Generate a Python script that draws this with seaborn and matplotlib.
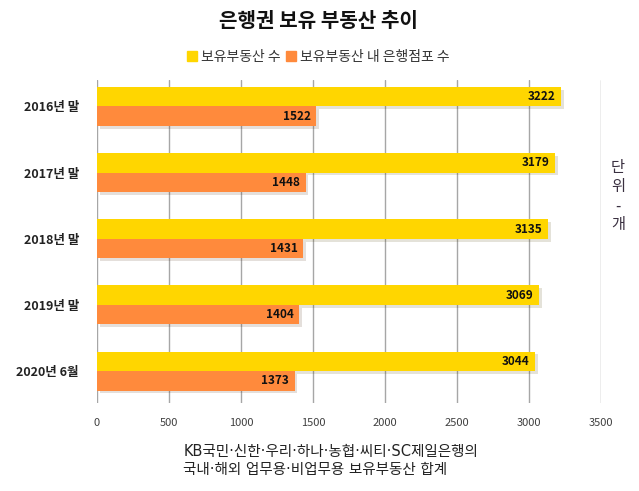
import numpy as np
import pandas as pd
import seaborn as sns
import matplotlib.pyplot as plt
import matplotlib.patheffects as pe

# Data
periods = ["2016년 말", "2017년 말", "2018년 말", "2019년 말", "2020년 6월"]
owned_total = [3222, 3179, 3135, 3069, 3044]
bank_branches = [1522, 1448, 1431, 1404, 1373]
series_names = ["보유부동산 수", "보유부동산 내 은행점포 수"]
x_ticks = [0, 500, 1000, 1500, 2000, 2500, 3000, 3500]

df = pd.DataFrame({
    "period": periods * 2,
    "value": owned_total + bank_branches,
    "series": [series_names[0]] * len(periods) + [series_names[1]] * len(periods),
})

sns.set_style("white")
plt.rcParams["font.family"] = ["Noto Sans CJK KR", "DejaVu Sans"]

fig = plt.figure(figsize=(6.39, 4.91), dpi=100)
ax = fig.add_axes([0.1518, 0.179, 0.7887, 0.658])

palette = {series_names[0]: "#FFD600", series_names[1]: "#FF8A3C"}
sns.barplot(data=df, x="value", y="period", hue="series", orient="h",
            palette=palette, width=0.59, ax=ax, legend=False, saturation=1)

shadow = [pe.SimplePatchShadow(offset=(2, -2), alpha=0.15), pe.Normal()]
for p in ax.patches:
    p.set_path_effects(shadow)
    p.set_edgecolor("none")
    w = p.get_width()
    yc = p.get_y() + p.get_height() / 2
    ax.annotate(f"{int(round(w))}", (w, yc), xytext=(-4, 0), textcoords="offset points",
                ha="right", va="center", fontsize=8.5, fontweight="bold", color="#111111")

ax.set_xlim(0, 3500)
ax.set_ylim(4.484, -0.40)
ax.set_xticks(x_ticks)
ax.grid(axis="x", color="#A6A6A6", linewidth=1)
ax.grid(axis="y", visible=False)
ax.set_axisbelow(True)
for s in ax.spines.values():
    s.set_visible(False)
ax.tick_params(axis="x", length=0, pad=11, labelsize=8, labelcolor="#404040")
ax.tick_params(axis="y", length=0, pad=13)
for lbl in ax.get_yticklabels():
    lbl.set_fontweight("bold")
    lbl.set_fontsize(9)
    lbl.set_color("#222222")
ax.set_xlabel("")
ax.set_ylabel("")

# title and legend
fig.text(0.498, 0.958, "은행권 보유 부동산 추이", ha="center", va="center",
         fontsize=14.5, fontweight="bold", color="#111111")
handles = [plt.Rectangle((0, 0), 1, 1, color=palette[n]) for n in series_names]
fig.legend(handles, series_names, loc="center", bbox_to_anchor=(0.498, 0.884), ncol=2,
           frameon=False, fontsize=10, handlelength=0.7, handleheight=0.7,
           handletextpad=0.3, columnspacing=0.4, labelcolor="#333333")

# unit note
fig.text(0.967, 0.60, "단\n위\n-\n개", ha="center", va="center", fontsize=11,
         color="#3a3040", linespacing=1.15)

# caption
fig.text(0.287, 0.062, "KB국민·신한·우리·하나·농협·씨티·SC제일은행의\n국내·해외 업무용·비업무용 보유부동산 합계",
         ha="left", va="center", fontsize=10.5, color="#222222", linespacing=1.2,
         family=["DejaVu Sans", "Noto Sans CJK KR"])

fig.savefig("out.png", dpi=100)
